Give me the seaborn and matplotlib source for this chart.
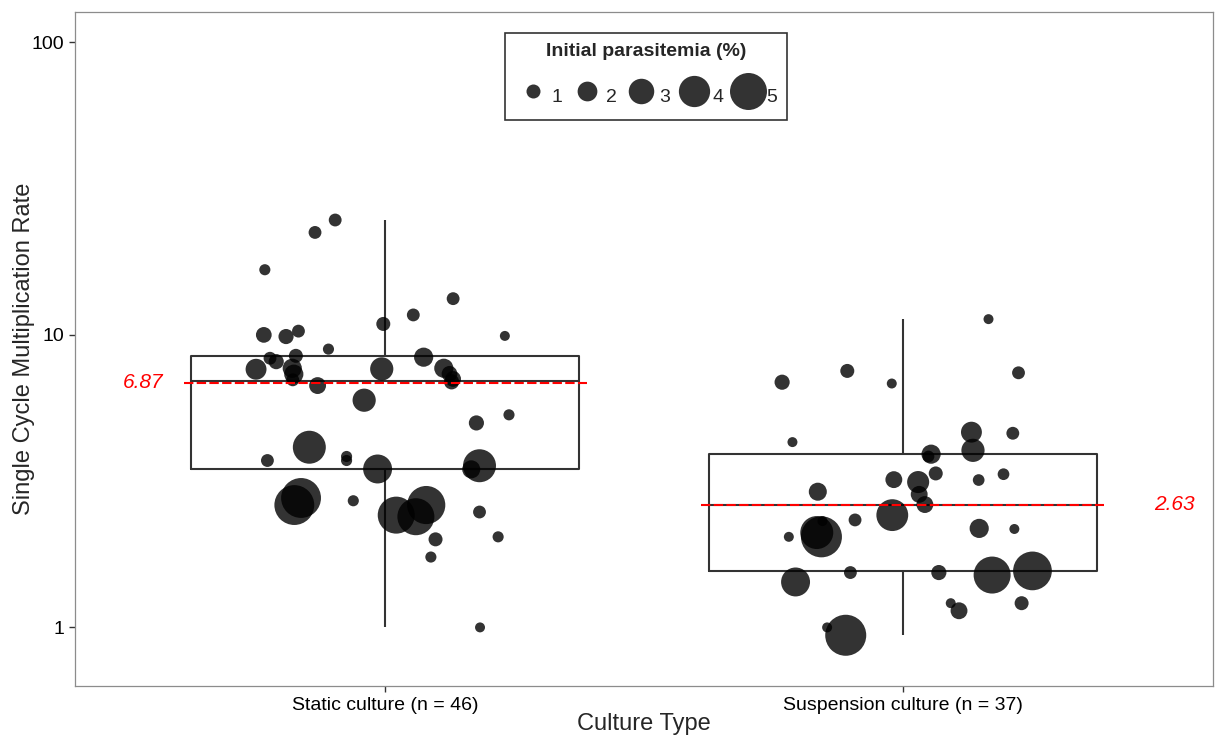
import numpy as np
import pandas as pd
import matplotlib
matplotlib.use("Agg")
import matplotlib.pyplot as plt
from matplotlib.lines import Line2D
import seaborn as sns

# ---------------- data ----------------
categories = ["Static culture (n = 46)", "Suspension culture (n = 37)"]

static_rate = [24.7, 22.4, 16.7, 13.3, 11.7, 10.9, 10.0, 9.87, 10.3, 9.92,
               8.94, 8.32, 8.10, 8.48, 8.39, 7.63, 7.69, 7.34, 7.65, 7.69,
               7.36, 7.07, 6.71, 5.98, 5.00, 5.33, 4.13, 3.72, 3.84, 3.72,
               3.48, 3.57, 3.47, 2.62, 2.77, 2.71, 2.42, 2.62, 2.39, 2.48,
               2.00, 2.04, 1.74, 1.00, 6.91, 7.02]
static_para = [0.8, 0.8, 0.5, 0.8, 0.8, 1.0, 1.3, 1.2, 0.8, 0.3,
               0.5, 0.8, 1.2, 1.0, 1.9, 2.2, 1.9, 1.9, 2.6, 1.9,
               1.3, 1.3, 1.5, 2.6, 1.2, 0.5, 4.3, 0.8, 0.5, 0.5,
               3.6, 4.3, 1.7, 5.5, 5.5, 0.5, 5.0, 5.2, 5.0, 0.8,
               1.0, 0.5, 0.5, 0.3, 1.2, 0.8]
static_jitter = [-0.097, -0.136, -0.233, 0.131, 0.054, -0.004, -0.235, -0.192, -0.168, 0.231,
                 -0.110, -0.223, -0.211, -0.173, 0.074, -0.250, -0.180, -0.177, -0.007, 0.113,
                 0.124, 0.131, -0.131, -0.041, 0.176, 0.239, -0.147, -0.228, -0.075, -0.075,
                 -0.015, 0.182, 0.166, -0.176, -0.163, -0.062, 0.021, 0.079, 0.059, 0.182,
                 0.097, 0.218, 0.088, 0.183, 0.128, -0.179]

susp_rate = [11.32, 6.89, 7.53, 6.82, 7.42, 4.30, 4.65, 4.61, 4.03, 3.91,
             3.84, 3.36, 3.20, 3.14, 2.85, 2.63, 3.19, 3.34, 2.91, 2.42,
             2.33, 2.04, 2.11, 2.31, 2.04, 2.18, 2.17, 1.43, 1.54, 1.54,
             1.51, 1.56, 1.21, 1.14, 1.21, 0.94, 1.00]
susp_para = [0.3, 1.2, 1.0, 0.3, 0.8, 0.3, 2.2, 0.8, 2.6, 1.9,
             0.6, 1.0, 1.5, 2.4, 1.5, 1.5, 0.6, 0.6, 1.7, 4.1,
             0.8, 5.7, 4.3, 0.3, 0.3, 1.9, 0.3, 3.6, 0.8, 1.2,
             5.0, 5.3, 0.3, 1.5, 1.0, 5.7, 0.3]
susp_jitter = [0.166, -0.233, -0.107, -0.021, 0.224, -0.213, 0.133, 0.213, 0.136, 0.055,
               0.050, 0.064, -0.017, 0.030, 0.032, 0.043, 0.147, 0.195, -0.164, -0.020,
               -0.092, -0.157, -0.166, -0.155, -0.220, 0.148, 0.216, -0.207, -0.101, 0.070,
               0.173, 0.251, 0.093, 0.109, 0.230, -0.110, -0.146]

median_values = [6.87, 2.63]
median_labels = ["6.87", "2.63"]

legend_levels = [1, 2, 3, 4, 5]
y_ticks = [1, 10, 100]

# ---------------- frame ----------------
df = pd.DataFrame({
    "culture": [categories[0]] * len(static_rate) + [categories[1]] * len(susp_rate),
    "rate": static_rate + susp_rate,
    "para": static_para + susp_para,
    "jit": static_jitter + susp_jitter,
})
df["xpos"] = df["culture"].map({c: i for i, c in enumerate(categories)}) + df["jit"]


def diam_pt(v):
    # marker diameter (points) as a function of initial parasitemia
    return 0.72 * (8.25 + 5.75 * v)


size_map = {v: diam_pt(v) ** 2 for v in sorted(set(df["para"]))}

sns.set_style("white")
plt.rcParams["font.family"] = ["Liberation Sans", "DejaVu Sans"]

W, H = 1215, 735
fig = plt.figure(figsize=(W / 100, H / 100), dpi=100)
ax = fig.add_axes([75 / W, 1 - 685.7 / H, 1138 / W, 673.7 / H])

sns.boxplot(data=df, x="culture", y="rate", order=categories, whis=np.inf,
            width=0.75, fill=False, color="#333333", linewidth=1.5,
            showcaps=False, log_scale=True, ax=ax, zorder=1)

sns.scatterplot(data=df, x="xpos", y="rate", size="para", sizes=size_map,
                color="black", alpha=0.8, linewidth=0, legend=False, ax=ax,
                zorder=3)

for i, (m, lab) in enumerate(zip(median_values, median_labels)):
    ax.hlines(m, i - 0.39, i + 0.39, colors="red", linewidth=1.5,
              linestyles=(0, (4.5, 1.6)), zorder=4)
    tx = i - 0.469 if i == 0 else i + 0.526
    ax.text(tx, m, lab, color="red", fontsize=15, fontstyle="italic",
            ha="center", va="center", zorder=5)

ax.set_xlim(-0.6, 1.6)
ax.set_ylim(0.632, 127)
ax.set_yscale("log")
ax.set_yticks(y_ticks)
ax.set_yticklabels([str(t) for t in y_ticks])
ax.yaxis.set_minor_locator(matplotlib.ticker.NullLocator())
ax.set_xticks([0, 1])
ax.set_xticklabels(categories)
ax.tick_params(axis="both", labelsize=14, colors="#333333", length=4,
               width=1, labelcolor="black", left=True, bottom=True)
ax.tick_params(axis="x", pad=4)

ax.set_xlabel("Culture Type", fontsize=17, labelpad=-0.5)
ax.set_ylabel("Single Cycle Multiplication Rate", fontsize=17, labelpad=-2)

for s in ax.spines.values():
    s.set_visible(True)
    s.set_color("#8c8c8c")
    s.set_linewidth(0.9)

handles = [Line2D([], [], marker="o", linestyle="", color="black", alpha=0.8,
                  markeredgewidth=0, markersize=diam_pt(v)) for v in legend_levels]
leg = ax.legend(handles, [str(v) for v in legend_levels], ncol=5,
                title="Initial parasitemia (%)", loc="upper center",
                bbox_to_anchor=(0.502, 0.9688), borderaxespad=0, frameon=True,
                fancybox=False, fontsize=14,
                title_fontproperties={"weight": "bold", "size": 14},
                handlelength=1.9, handleheight=1.9, handletextpad=0.0,
                columnspacing=0.3, borderpad=0.5, labelspacing=1.1,
                edgecolor="black")
leg.get_frame().set_linewidth(1.2)

fig.savefig("out.png", dpi=100)
